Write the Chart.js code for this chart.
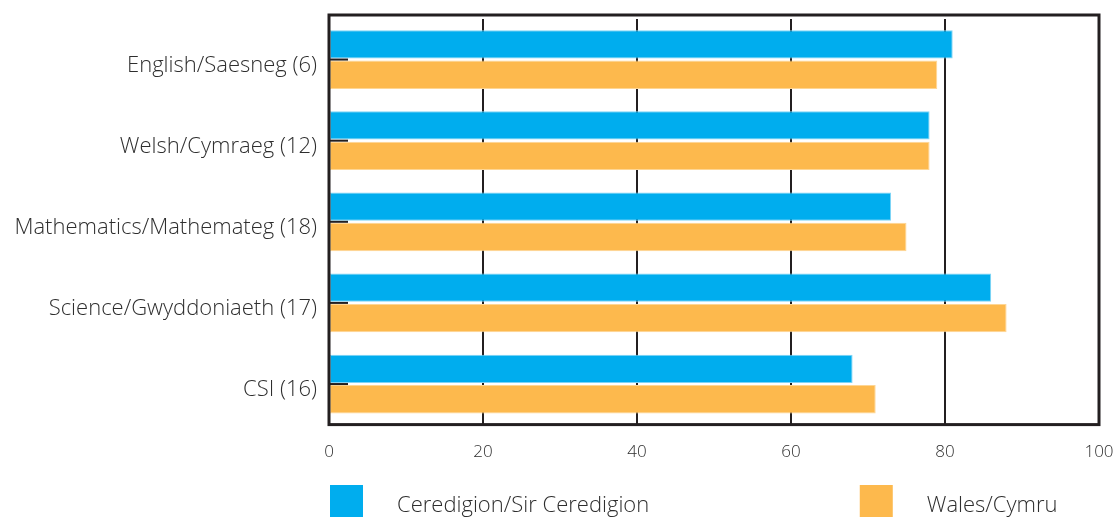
<!DOCTYPE html>
<html>
<head>
<meta charset="utf-8">
<script src="https://cdn.jsdelivr.net/npm/chart.js@4.4.1/dist/chart.umd.min.js"></script>
<style>
  html, body { margin: 0; padding: 0; background: #ffffff; }
  #wrap { width: 1115px; height: 517px; position: relative; }
</style>
</head>
<body>
<div id="wrap"><canvas id="c" width="1115" height="517"></canvas></div>
<script>
const categories = [
  'English/Saesneg (6)',
  'Welsh/Cymraeg (12)',
  'Mathematics/Mathemateg (18)',
  'Science/Gwyddoniaeth (17)',
  'CSI (16)'
];
const ceredigionValues = [81, 78, 73, 86, 68];
const walesValues = [79, 78, 75, 88, 71];
const seriesLabels = ['Ceredigion/Sir Ceredigion', 'Wales/Cymru'];
const xTickValues = [0, 20, 40, 60, 80, 100];

const FRAME = '#231f20';
const TEXT = '#2e2e2e';
const FONT = "'Open Sans', 'DejaVu Sans', sans-serif";

const framePlugin = {
  id: 'frameAndTicks',
  afterDraw(chart) {
    const ctx = chart.ctx;
    const a = chart.chartArea;
    const y = chart.scales.y;
    ctx.save();
    ctx.strokeStyle = FRAME;
    ctx.lineWidth = 2;
    for (let i = 0; i < categories.length; i++) {
      const py = y.getPixelForTick(i);
      ctx.beginPath();
      ctx.moveTo(a.left, py);
      ctx.lineTo(a.left + 19, py);
      ctx.stroke();
    }
    ctx.lineWidth = 3;
    const top = a.top - 4;
    ctx.strokeRect(a.left, top, a.right - a.left, a.bottom - top);
    ctx.restore();
  }
};

const legendPlugin = {
  id: 'customLegend',
  afterDraw(chart) {
    const ctx = chart.ctx;
    const a = chart.chartArea;
    const fractions = [0, 0.688];
    ctx.save();
    ctx.font = '300 22px ' + FONT;
    ctx.textBaseline = 'middle';
    ctx.textAlign = 'left';
    chart.data.datasets.forEach((ds, i) => {
      const bx = a.left + 1 + fractions[i] * (a.right - a.left);
      const by = chart.height - 32;
      ctx.fillStyle = ds.backgroundColor;
      ctx.fillRect(bx, by, 33, 32);
      ctx.fillStyle = TEXT;
      ctx.fillText(ds.label, bx + 67, by + 21);
    });
    ctx.restore();
  }
};

new Chart(document.getElementById('c'), {
  type: 'bar',
  data: {
    labels: categories,
    datasets: [
      {
        label: seriesLabels[0],
        data: ceredigionValues,
        backgroundColor: '#00adee',
        borderColor: '#7fd4f5',
        borderWidth: 1,
        borderSkipped: false,
        categoryPercentage: 0.75,
        barPercentage: 0.93
      },
      {
        label: seriesLabels[1],
        data: walesValues,
        backgroundColor: '#fdb94d',
        borderColor: '#fed694',
        borderWidth: 1,
        borderSkipped: false,
        categoryPercentage: 0.75,
        barPercentage: 0.93
      }
    ]
  },
  options: {
    indexAxis: 'y',
    responsive: false,
    animation: false,
    devicePixelRatio: 1,
    layout: { padding: { top: 19, right: 0, bottom: 38, left: 0 } },
    plugins: {
      legend: { display: false },
      tooltip: { enabled: false }
    },
    scales: {
      x: {
        min: 0,
        max: 100,
        z: 1,
        afterBuildTicks(scale) {
          scale.ticks = xTickValues.map(v => ({ value: v }));
        },
        afterFit(scale) {
          scale.paddingRight = 16;
          scale.paddingLeft = 0;
        },
        grid: {
          color: FRAME,
          lineWidth: 2,
          drawTicks: false
        },
        border: { display: false },
        ticks: {
          color: TEXT,
          padding: 17,
          font: { family: FONT, size: 17, weight: 300 }
        }
      },
      y: {
        afterFit(scale) {
          scale.width = 329;
          scale.paddingTop = 0;
          scale.paddingBottom = 0;
        },
        grid: { display: false, drawTicks: false },
        border: { display: false },
        ticks: {
          color: TEXT,
          padding: 12,
          labelOffset: 6,
          font: { family: FONT, size: 22, weight: 300 }
        }
      }
    }
  },
  plugins: [framePlugin, legendPlugin]
});
</script>
</body>
</html>
